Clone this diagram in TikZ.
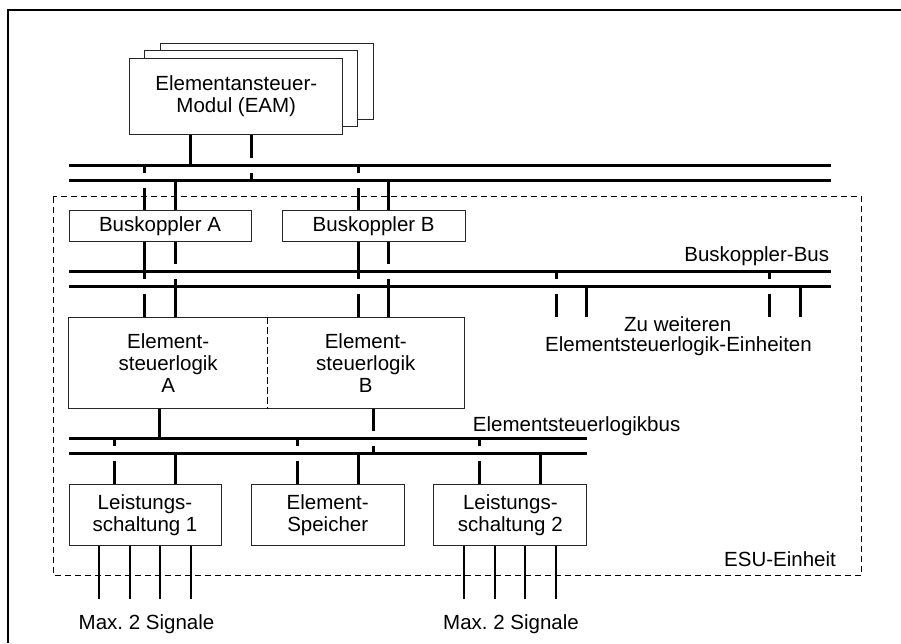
\documentclass[tikz,border=0pt]{standalone}
\usepackage{fontspec}
\setmainfont{Liberation Sans}
\usetikzlibrary{calc}
\frenchspacing
\begin{document}
\begin{tikzpicture}[x=1pt,y=-1pt,
  every node/.style={font=\fontsize{20.5}{22}\selectfont, inner sep=0pt},
  unit/.style={draw=black!85, line width=1pt, fill=white, align=center},
  rail/.style={line width=3pt},
  conn/.style={line width=3pt},
  sig/.style={line width=2.2pt},
  frameline/.style={line width=1.2pt},
  region/.style={draw, line width=1pt, dash pattern=on 6pt off 4pt},
  divider/.style={line width=0.9pt, dash pattern=on 7pt off 3pt},
]
\useasboundingbox (0,0) rectangle (901,643);
\def\gap{7.5}

% page frame (top and left edge)
\draw[frameline] (8,643) -- (8,10) -- (901,10);

% ESU unit region
\draw[region] (53.3,196.7) rectangle (861.7,575);
\node[anchor=base east] (esu) at (836,566.3) {ESU-Einheit};

% stacked element control modules
\node[unit, minimum width=213pt, minimum height=76pt] (eam3) at (266.6,81) {};
\node[unit, minimum width=213pt, minimum height=76pt] (eam2) at (251.4,88.7) {};
\node[unit, minimum width=213pt, minimum height=76pt] (eam) at (236.3,96.5) {Elementansteuer-\\Modul (EAM)};

% upper bus pair
\draw[rail] (69,165) coordinate (r1t) -- (831,165);
\draw[rail] (69,180) coordinate (r1b) -- (831,180);

% bus couplers
\node[unit, minimum width=182pt, minimum height=31.7pt] (bkA) at (160,225.85) {Buskoppler A};
\node[unit, minimum width=182.7pt, minimum height=31.7pt] (bkB) at (373.65,225.85) {Buskoppler B};

% coupler bus pair
\draw[rail] (69,271.7) coordinate (r2t) -- (831,271.7);
\draw[rail] (69,286) coordinate (r2b) -- (831,286);
\node[anchor=base east] (lbus2) at (829.3,261.3) {Buskoppler-Bus};

% element control logic A / B
\node[align=center, minimum width=198.3pt, minimum height=91pt] (eslA) at (168.15,362.8) {Element-\\steuerlogik\\A};
\node[align=center, minimum width=197pt, minimum height=91pt] (eslB) at (365.8,362.8) {Element-\\steuerlogik\\B};
\draw[draw=black!85, line width=1pt] (eslA.north west) rectangle (eslB.south east);
\draw[divider] (eslA.north east) -- (eslA.south east);

% element control logic bus pair
\draw[rail] (69,438.3) coordinate (r3t) -- (586.7,438.3);
\draw[rail] (69,453.3) coordinate (r3b) -- (586.7,453.3);
\node[anchor=base west] (lbus3) at (472.7,431) {Elementsteuerlogikbus};

% power stages and element memory
\node[unit, minimum width=152pt, minimum height=61pt] (ls1) at (145,514.8) {Leistungs-\\schaltung 1};
\node[unit, minimum width=152.7pt, minimum height=61pt] (mem) at (327.7,514.8) {Element-\\Speicher};
\node[unit, minimum width=152.7pt, minimum height=61pt] (ls2) at (510.3,514.8) {Leistungs-\\schaltung 2};

% further logic units
\node[anchor=base] (more1) at (677.7,331.3) {Zu weiteren};
\node[anchor=base] (more2) at (678.5,351) {Elementsteuerlogik-Einheiten};

% signal labels
\node[anchor=base] (sigA) at (146.5,629.6) {Max. 2 Signale};
\node[anchor=base] (sigB) at (511,629.6) {Max. 2 Signale};

% ---- connectors: module to upper buses
\coordinate (e1) at ($(eam.south)+(-46,0)$);
\coordinate (e2) at ($(eam.south)+(15,0)$);
\draw[conn] (e1) -- (e1 |- r1t);
\draw[conn] (e2) -- ($(e2 |- r1t)+(0,-\gap)$) ($(e2 |- r1t)+(0,\gap)$) -- (e2 |- r1b);

% ---- connectors: upper buses to couplers, couplers to coupler bus
\foreach \unitname/\da/\db in {bkA/-15.7/15, bkB/-15/14.6}{
  \coordinate (p) at ($(\unitname.north)+(\da,0)$);
  \coordinate (q) at ($(\unitname.north)+(\db,0)$);
  \draw[conn] (p |- r1t) -- ($(p |- r1b)+(0,-\gap)$) ($(p |- r1b)+(0,\gap)$) -- (p);
  \draw[conn] (q |- r1b) -- (q);
  \coordinate (p) at ($(\unitname.south)+(\da,0)$);
  \coordinate (q) at ($(\unitname.south)+(\db,0)$);
  \draw[conn] (p) -- ($(p |- r2b)+(0,-\gap)$) ($(p |- r2b)+(0,\gap)$) -- (p |- eslA.north);
  \draw[conn] (q) -- ($(q |- r2t)+(0,-\gap)$) ($(q |- r2t)+(0,\gap)$) -- (q |- eslA.north);
}

% ---- stubs to further logic units
\coordinate (z1) at (556.7,316.7);
\coordinate (z2) at (586,316.7);
\coordinate (z3) at (769.3,316.7);
\coordinate (z4) at (800,316.7);
\foreach \a/\b in {z1/z2, z3/z4}{
  \draw[conn] (\a |- r2t) -- ($(\a |- r2b)+(0,-\gap)$) ($(\a |- r2b)+(0,\gap)$) -- (\a);
  \draw[conn] (\b |- r2b) -- (\b);
}

% ---- control logic to its bus
\coordinate (s1) at ($(eslA.south)+(-8.85,0)$);
\coordinate (s2) at ($(eslB.south)+(7.5,0)$);
\draw[conn] (s1) -- (s1 |- r3t);
\draw[conn] (s2) -- ($(s2 |- r3t)+(0,-\gap)$) ($(s2 |- r3t)+(0,\gap)$) -- (s2 |- r3b);

% ---- bus to power stages / memory, and signal outputs
\foreach \unitname in {ls1, mem, ls2}{
  \coordinate (p) at ($(\unitname.north)+(-30.5,0)$);
  \coordinate (q) at ($(\unitname.north)+(30.5,0)$);
  \draw[conn] (p |- r3t) -- ($(p |- r3b)+(0,-\gap)$) ($(p |- r3b)+(0,\gap)$) -- (p);
  \draw[conn] (q |- r3b) -- (q);
}
\foreach \unitname in {ls1, ls2}{
  \foreach \dx in {-46,-15,15,46}{
    \draw[sig] ($(\unitname.south)+(\dx,0)$) -- ($(\unitname.south)+(\dx,53)$);
  }
}
\end{tikzpicture}
\end{document}
